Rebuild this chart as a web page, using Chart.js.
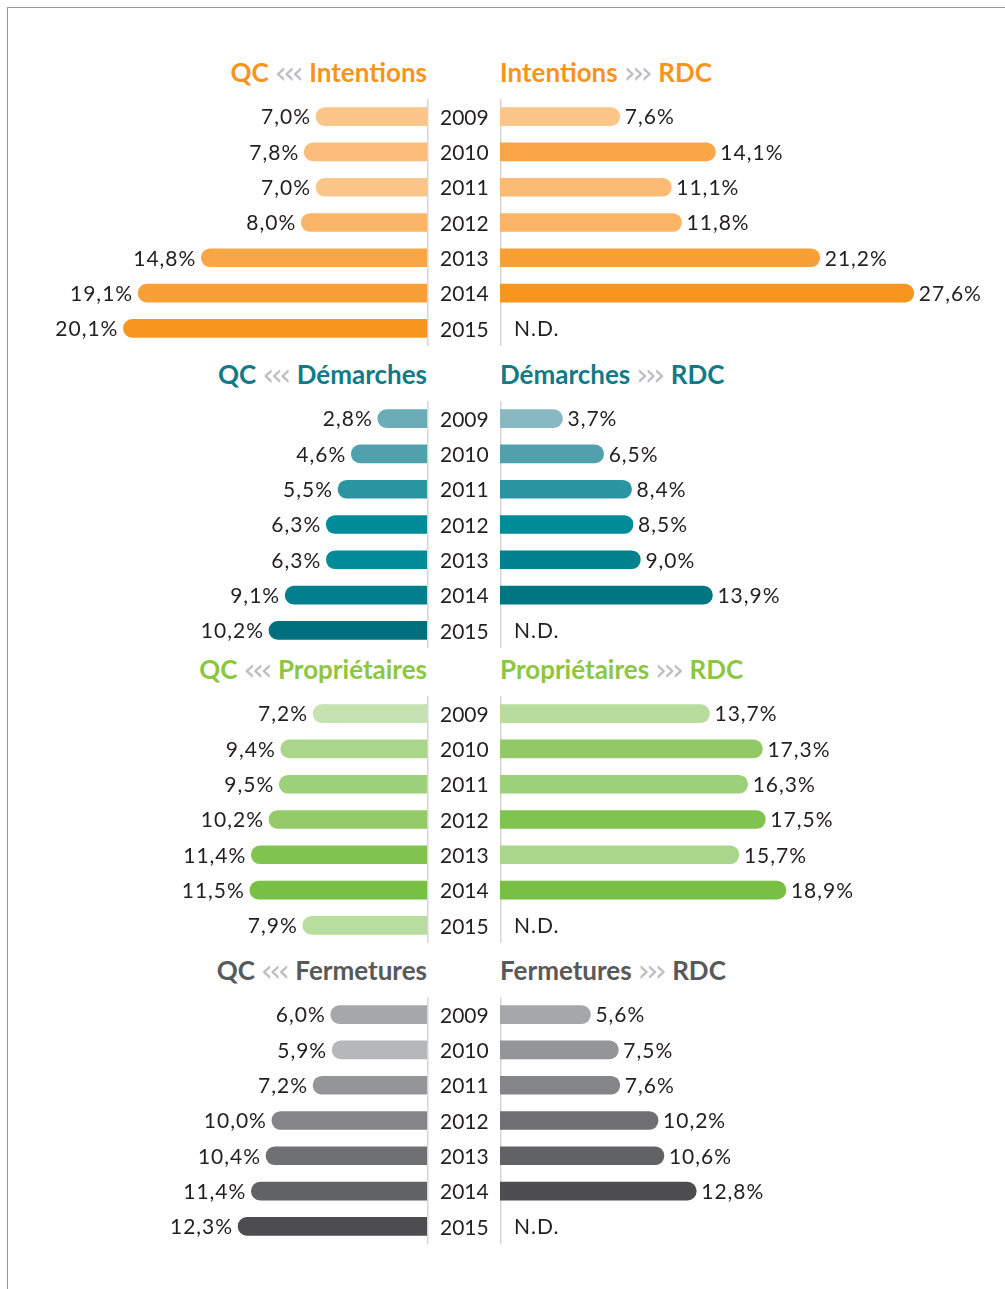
<!DOCTYPE html>
<html lang="fr">
<head>
<meta charset="utf-8">
<title>QC / RDC</title>
<script src="https://cdn.jsdelivr.net/npm/chart.js@4/dist/chart.umd.min.js"></script>
<style>
  html, body { margin: 0; padding: 0; background: #fff; }
  body { width: 1005px; height: 1289px; position: relative; overflow: hidden; font-family: Lato, "Open Sans", sans-serif; }
  .frame { position: absolute; left: 7px; top: 7px; width: 1100px; height: 1400px; border-top: 1.5px solid #9a9a9a; border-left: 1.5px solid #9a9a9a; }
  .titre { position: absolute; font-weight: bold; font-size: 26px; line-height: 30px; white-space: nowrap; }
  .titre.gauche { right: 578px; text-align: right; }
  .titre.droite { left: 500px; text-align: left; }
  .chev { color: #bdbdbf; font-family: "DejaVu Sans", sans-serif; font-weight: normal; font-size: 30px; line-height: 30px; margin: 0 9px 0 6px; letter-spacing: -3.5px; position: relative; top: 1px; }
  canvas { position: absolute; }
</style>
</head>
<body>
<div class="frame"></div>
<script>
const years = ['2009', '2010', '2011', '2012', '2013', '2014', '2015'];

const intentionsQC  = [7.0, 7.8, 7.0, 8.0, 14.8, 19.1, 20.1];
const intentionsRDC = [7.6, 14.1, 11.1, 11.8, 21.2, 27.6, null];
const demarchesQC  = [2.8, 4.6, 5.5, 6.3, 6.3, 9.1, 10.2];
const demarchesRDC = [3.7, 6.5, 8.4, 8.5, 9.0, 13.9, null];
const proprietairesQC  = [7.2, 9.4, 9.5, 10.2, 11.4, 11.5, 7.9];
const proprietairesRDC = [13.7, 17.3, 16.3, 17.5, 15.7, 18.9, null];
const fermeturesQC  = [6.0, 5.9, 7.2, 10.0, 10.4, 11.4, 12.3];
const fermeturesRDC = [5.6, 7.5, 7.6, 10.2, 10.6, 12.8, null];

// couleurs des barres, année par année
const intentionsQCCouleurs  = ['#fcc68b', '#fbbd79', '#fcc68b', '#fbb568', '#f9a646', '#f8a038', '#f7961f'];
const intentionsRDCCouleurs = ['#fcc68b', '#f9a646', '#fbbb74', '#fbb466', '#f8a035', '#f7961f', '#f7961f'];
const demarchesQCCouleurs  = ['#6aadb8', '#50a0ae', '#2b95a2', '#008b99', '#008b99', '#00808e', '#00707f'];
const demarchesRDCCouleurs = ['#88b9c3', '#50a0ae', '#2b95a2', '#008b99', '#00818f', '#007683', '#007683'];
const proprietairesQCCouleurs  = ['#c5e2b0', '#aad68c', '#9dd07a', '#92cb67', '#80c44f', '#77c043', '#b9dd9e'];
const proprietairesRDCCouleurs = ['#b8dc9d', '#90c965', '#9dd07a', '#80c44f', '#aad68c', '#77c043', '#77c043'];
const fermeturesQCCouleurs  = ['#a6a7a9', '#b6b7b9', '#939598', '#848587', '#6f7072', '#616264', '#4d4d4f'];
const fermeturesRDCCouleurs = ['#a6a7a9', '#939598', '#848587', '#6f7072', '#616264', '#4d4d4f', '#4d4d4f'];

const panneaux = [
  { nom: 'Intentions',    couleur: '#f7941d', top: 99,  qc: intentionsQC,    rdc: intentionsRDC,    cQC: intentionsQCCouleurs,    cRDC: intentionsRDCCouleurs },
  { nom: 'Démarches',     couleur: '#127a87', top: 401, qc: demarchesQC,     rdc: demarchesRDC,     cQC: demarchesQCCouleurs,     cRDC: demarchesRDCCouleurs },
  { nom: 'Propriétaires', couleur: '#8dc63f', top: 696, qc: proprietairesQC, rdc: proprietairesRDC, cQC: proprietairesQCCouleurs, cRDC: proprietairesRDCCouleurs },
  { nom: 'Fermetures',    couleur: '#58595b', top: 997, qc: fermeturesQC,    rdc: fermeturesRDC,    cQC: fermeturesQCCouleurs,    cRDC: fermeturesRDCCouleurs }
];

const PX_PAR_POINT = 14.7;   // largeur d'un point de pourcentage
const BASE = -0.55;          // les barres démarrent un peu avant zéro (bout arrondi)
const HAUTEUR = 247;
const AXE_GAUCHE = 427;
const LARGEUR_DROITE = 505;
const police = 'Lato, "Open Sans", sans-serif';
const texte = '#231f20';

const fmt = v => v.toFixed(1).replace('.', ',') + '%';

// étiquettes de valeur au bout des barres, "N.D." quand la donnée manque
const etiquettes = {
  id: 'etiquettes',
  afterDatasetsDraw(chart, args, opts) {
    const ctx = chart.ctx;
    const meta = chart.getDatasetMeta(0);
    const data = chart.data.datasets[0].data;
    ctx.save();
    ctx.font = '21px ' + police;
    ctx.fillStyle = texte;
    ctx.textBaseline = 'middle';
    ctx.letterSpacing = '1px';
    meta.data.forEach((bar, i) => {
      const v = data[i];
      const y = bar.y + 1;
      if (v === null) {
        ctx.textAlign = 'left';
        ctx.fillText('N.D.', chart.scales.x.getPixelForValue(0) + 6, y);
      } else if (opts.cote === 'gauche') {
        ctx.textAlign = 'right';
        ctx.fillText(fmt(v), bar.x - 5, y);
      } else {
        ctx.textAlign = 'left';
        ctx.fillText(fmt(v), bar.x + 5, y);
      }
    });
    ctx.restore();
  }
};

// filets verticaux de part et d'autre de la colonne des années
const filets = {
  id: 'filets',
  beforeDatasetsDraw(chart, args, opts) {
    const ctx = chart.ctx;
    const a = chart.chartArea;
    ctx.save();
    ctx.strokeStyle = '#d6d6d6';
    ctx.lineWidth = 1.5;
    ctx.beginPath();
    const x = opts.cote === 'gauche' ? a.right + 0.75 : 0.75;
    ctx.moveTo(x, a.top);
    ctx.lineTo(x, a.bottom);
    ctx.stroke();
    ctx.restore();
  }
};

function titre(classe, html, couleur, top) {
  const d = document.createElement('div');
  d.className = 'titre ' + classe;
  d.style.top = (top - 42) + 'px';
  d.style.color = couleur;
  d.innerHTML = html;
  document.body.appendChild(d);
}

function toile(left, top, w, h) {
  const c = document.createElement('canvas');
  c.width = w;
  c.height = h;
  c.style.left = left + 'px';
  c.style.top = top + 'px';
  c.style.width = w + 'px';
  c.style.height = h + 'px';
  document.body.appendChild(c);
  return c;
}

function graphique(canvas, valeurs, couleurs, cote) {
  const gauche = cote === 'gauche';
  const largeurZone = gauche ? AXE_GAUCHE : LARGEUR_DROITE;
  return new Chart(canvas, {
    type: 'bar',
    data: {
      labels: years,
      datasets: [{
        data: valeurs,
        backgroundColor: couleurs,
        base: BASE,
        barThickness: 18,
        borderRadius: 9,
        borderSkipped: 'start'
      }]
    },
    options: {
      indexAxis: 'y',
      responsive: false,
      animation: false,
      layout: { padding: 0 },
      scales: {
        x: {
          type: 'linear',
          display: false,
          reverse: gauche,
          min: BASE,
          max: BASE + largeurZone / PX_PAR_POINT
        },
        y: {
          display: gauche,
          position: 'right',
          grid: { display: false, drawTicks: false },
          border: { display: false },
          ticks: {
            color: texte,
            font: { family: police, size: 21 },
            crossAlign: 'center',
            padding: 13,
            labelOffset: 1.5
          },
          afterFit: s => {
            if (!gauche) return;
            // colonne des années : 73 px, sans marge haute ni basse
            s.width = 73;
            s.paddingTop = 0;
            s.paddingBottom = 0;
          }
        }
      },
      plugins: {
        legend: { display: false },
        tooltip: { enabled: false },
        etiquettes: { cote: cote },
        filets: { cote: cote }
      }
    },
    plugins: [etiquettes, filets]
  });
}

panneaux.forEach(p => {
  titre('gauche', 'QC<span class="chev">‹‹‹</span>' + p.nom, p.couleur, p.top);
  titre('droite', p.nom + '<span class="chev">›››</span>RDC', p.couleur, p.top);
  graphique(toile(0, p.top, 500, HAUTEUR), p.qc, p.cQC, 'gauche');
  graphique(toile(500, p.top, LARGEUR_DROITE, HAUTEUR), p.rdc, p.cRDC, 'droite');
});
</script>
</body>
</html>
